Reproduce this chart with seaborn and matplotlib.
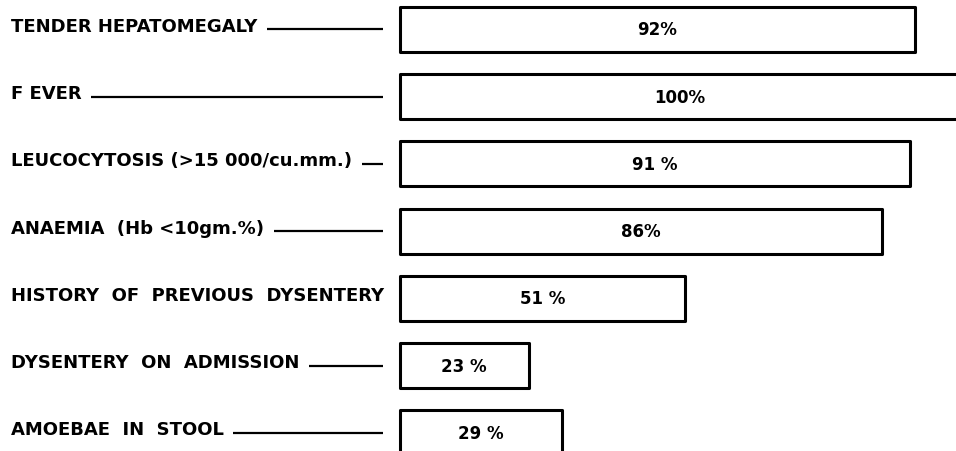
import matplotlib
matplotlib.use('Agg')
import matplotlib.pyplot as plt
import seaborn as sns
import pandas as pd

# findings and their frequency (%)
findings = ['TENDER HEPATOMEGALY',
            'F EVER',
            'LEUCOCYTOSIS (>15 000/cu.mm.)',
            'ANAEMIA  (Hb <10gm.%)',
            'HISTORY  OF  PREVIOUS  DYSENTERY',
            'DYSENTERY  ON  ADMISSION',
            'AMOEBAE  IN  STOOL']
percent = [92, 100, 91, 86, 51, 23, 29]
percent_text = ['92%', '100%', '91 %', '86%', '51 %', '23 %', '29 %']

sns.set_style('white')
plt.rcParams['font.family'] = ['DejaVu Sans']
plt.rcParams['text.color'] = 'black'

fig = plt.figure(figsize=(9.56, 4.52), dpi=100)
ax = fig.add_axes([0, 0, 1, 1])

df = pd.DataFrame({'finding': findings, 'pct': percent})
sns.barplot(data=df, x='pct', y='finding', orient='h', color='white',
            edgecolor='black', linewidth=2.2, width=0.67, ax=ax)
for p in ax.patches:
    p.set_joinstyle('round')

ax.set_xlim(-71.4, 99.3)
ax.set_ylim(6.27, -0.45)
ax.axis('off')

# value inside each bar
for i, (v, t) in enumerate(zip(percent, percent_text)):
    ax.text(v / 2, i, t, ha='center', va='center', fontsize=12, fontweight='bold')

# labels on the left, with leader lines up to the bars
trans = ax.get_yaxis_transform()
txts = []
for i, name in enumerate(findings):
    txts.append(ax.text(0.011, i - 0.05, name, transform=trans, ha='left', va='center',
                        fontsize=13, fontweight='bold'))

fig.canvas.draw()
r = fig.canvas.get_renderer()
inv = ax.transData.inverted()
line_end = -3.0
for i, t in enumerate(txts):
    bb = t.get_window_extent(r)
    x0 = inv.transform((bb.x1 + 10, 0))[0]
    if x0 < line_end - 2:
        ax.plot([x0, line_end], [i, i], color='black', lw=1.6, solid_capstyle='butt')

fig.savefig('out.png', dpi=100)
